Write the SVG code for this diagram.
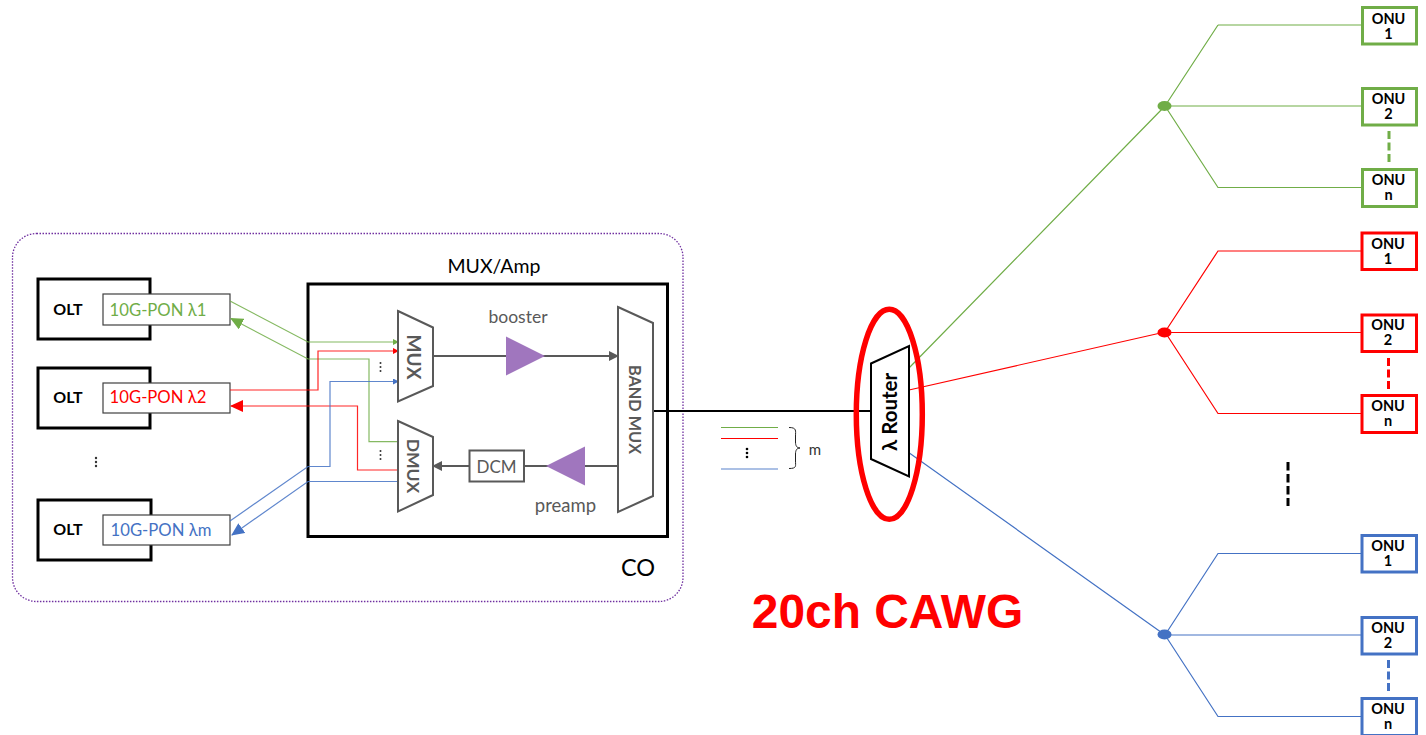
<svg xmlns="http://www.w3.org/2000/svg" width="1426" height="735" viewBox="0 0 1426 735">
<style>
text{font-family:Lato,"Open Sans","DejaVu Sans",sans-serif;text-anchor:middle}
.olt{fill:#fff;stroke:#000;stroke-width:3}
.port{fill:#fff;stroke:#404040;stroke-width:1.2}
.bl{font-weight:700;font-size:16px;fill:#000}
.pl{font-size:16.7px}
.gr{stroke:#70ad47}.rd{stroke:#ff0000}.bu{stroke:#4472c4}
.wire{fill:none;stroke-width:1.2}
.tz{fill:#fff;stroke:#595959;stroke-width:2}
.tl{font-weight:700;font-size:17.5px;fill:#595959}
.gl{font-size:17.5px;fill:#595959}
.onu{fill:#fff;stroke-width:3}
.ot{font-weight:700;font-size:14.5px;fill:#000}
.dash{fill:none;stroke-width:3;stroke-dasharray:8 3.5}
.gf{fill:#70ad47}.rf{fill:#ff0000}.bf{fill:#4472c4}
.dot{fill:#333}
</style>
<defs>
<marker id="ag" markerUnits="userSpaceOnUse" markerWidth="6" markerHeight="6" refX="5" refY="3" orient="auto"><path d="M0 0L6 3L0 6z" fill="#70ad47"/></marker>
<marker id="ar" markerUnits="userSpaceOnUse" markerWidth="6" markerHeight="6" refX="5" refY="3" orient="auto"><path d="M0 0L6 3L0 6z" fill="#ff0000"/></marker>
<marker id="ab" markerUnits="userSpaceOnUse" markerWidth="6" markerHeight="6" refX="5" refY="3" orient="auto"><path d="M0 0L6 3L0 6z" fill="#4472c4"/></marker>
<marker id="Ag" markerUnits="userSpaceOnUse" markerWidth="13" markerHeight="12" refX="12" refY="6" orient="auto"><path d="M0 0L13 6L0 12z" fill="#70ad47"/></marker>
<marker id="Ar" markerUnits="userSpaceOnUse" markerWidth="13" markerHeight="12" refX="12" refY="6" orient="auto"><path d="M0 0L13 6L0 12z" fill="#ff0000"/></marker>
<marker id="Ab" markerUnits="userSpaceOnUse" markerWidth="13" markerHeight="12" refX="12" refY="6" orient="auto"><path d="M0 0L13 6L0 12z" fill="#4472c4"/></marker>
<marker id="ak" markerUnits="userSpaceOnUse" markerWidth="10" markerHeight="10" refX="9" refY="5" orient="auto"><path d="M0 0L10 5L0 10z" fill="#595959"/></marker>
</defs>

<g id="co">
<rect x="12.5" y="233.5" width="670.5" height="368" rx="24" fill="#fff" stroke="#7030a0" stroke-width="1.3" stroke-dasharray="1.5 1.5"/>
<text x="638" y="576" font-size="23.5" fill="#000">CO</text>
</g>

<g id="olt1"><rect class="olt" x="38" y="279" width="112" height="60"/><text class="bl" x="68" y="315">OLT</text></g>
<g id="olt2"><rect class="olt" x="38" y="368" width="112" height="60"/><text class="bl" x="68" y="403">OLT</text></g>
<g id="olt3"><rect class="olt" x="38" y="500" width="113" height="60"/><text class="bl" x="68" y="535">OLT</text></g>
<g id="port1"><rect class="port" x="103" y="294" width="127" height="31"/><text class="pl" x="158" y="316" fill="#70ad47">10G-PON λ1</text></g>
<g id="port2"><rect class="port" x="103" y="383" width="127" height="30"/><text class="pl" x="158" y="403" fill="#ff0000">10G-PON λ2</text></g>
<g id="port3"><rect class="port" x="103" y="515" width="127" height="30"/><text class="pl" x="161" y="536" fill="#4472c4">10G-PON λm</text></g>
<g id="olt-dots" class="dot"><circle cx="96" cy="458" r="1.2"/><circle cx="96" cy="462" r="1.2"/><circle cx="96" cy="466" r="1.2"/></g>

<g id="muxamp">
<rect x="308" y="284" width="359.5" height="252.5" fill="#fff" stroke="#000" stroke-width="3"/>
<text x="494" y="273" font-size="19.5" fill="#000">MUX/Amp</text>
</g>

<g id="connectors">
<path class="wire gr" d="M230 301L308 342H398" marker-end="url(#ag)" stroke-opacity=".85"/>
<path class="wire gr" d="M398 441.7H369V359H308L231 318.5" marker-end="url(#Ag)" stroke-opacity=".85"/>
<path class="wire rd" d="M230 390H318V351H398" marker-end="url(#ar)" stroke-opacity=".85"/>
<path class="wire rd" d="M398 470H357.5V406H231" marker-end="url(#Ar)" stroke-opacity=".85"/>
<path class="wire bu" d="M230 521L308 466.5H330V381.5H398" marker-end="url(#ab)" stroke-opacity=".85"/>
<path class="wire bu" d="M398 481.5H308L232 535" marker-end="url(#Ab)" stroke-opacity=".85"/>
<path d="M433 356H618" fill="none" stroke="#595959" stroke-width="2" marker-end="url(#ak)"/>
<path d="M618 466H433" fill="none" stroke="#595959" stroke-width="2" marker-end="url(#ak)"/>
<path d="M653 411H871" fill="none" stroke="#000" stroke-width="2"/>
<path class="wire gr" d="M909 368L1165 106M1218 25H1362M1165 106L1218 25M1165 106H1362M1165 106L1218 187.5H1362"/>
<path class="wire rd" d="M909 390L1165 332M1165 332L1218 251H1362M1165 332.5H1362M1165 332L1218 413.5H1362"/>
<path class="wire bu" d="M909 452.7L1165 635M1165 635L1218 553.5H1362M1165 635H1362M1165 635L1218 716.5H1362"/>
<path class="dash gr" d="M1389 131V165"/>
<path class="dash rd" d="M1388.5 358V392"/>
<path class="dash bu" d="M1388.5 660V694"/>
<path d="M1288 462V506" fill="none" stroke="#000" stroke-width="3" stroke-dasharray="8.5 3.5"/>
</g>

<g id="mux"><path class="tz" d="M398 311L433 327.5V386L398 401.5z"/><text class="tl" style="font-size:19px" transform="translate(407 357) rotate(90)">MUX</text></g>
<g id="dmux"><path class="tz" d="M398 421L433 437V495L398 511.5z"/><text class="tl" transform="translate(407 466) rotate(90)">DMUX</text></g>
<g id="bandmux"><path class="tz" d="M618 307L653 323V496L618 512z"/><text class="tl" style="font-size:16.3px" transform="translate(628.5 409.5) rotate(90)">BAND MUX</text></g>
<g id="booster"><path d="M506 336.5L545 356L506 375.5z" fill="#a076be"/><text class="gl" x="518" y="323">booster</text></g>
<g id="preamp"><path d="M585 446.5L546 466L585 485.5z" fill="#a076be"/><text class="gl" style="font-size:18.5px" x="565.5" y="512">preamp</text></g>
<g id="dcm"><rect x="469.5" y="450.5" width="54.5" height="31" fill="#fff" stroke="#595959" stroke-width="2"/><text class="gl" x="496.5" y="473" style="font-size:17px">DCM</text></g>
<g id="mux-dots" class="dot"><circle cx="380.5" cy="363" r="1"/><circle cx="380.5" cy="367" r="1"/><circle cx="380.5" cy="371" r="1"/><circle cx="380.5" cy="451" r="1"/><circle cx="380.5" cy="455" r="1"/><circle cx="380.5" cy="459" r="1"/></g>

<g id="legend">
<path d="M721 427.5H778" stroke="#70ad47" stroke-width="1.2" fill="none"/>
<path d="M721 438.5H778" stroke="#ff0000" stroke-width="1.2" fill="none"/>
<path d="M721 469H778" stroke="#4472c4" stroke-width="1.6" fill="none" opacity=".6"/>
<circle cx="747" cy="449" r="1.3"/><circle cx="747" cy="453" r="1.3"/><circle cx="747" cy="457" r="1.3"/>
<path d="M789 427.5C797 427.5 795.5 431 795.5 436V442C795.5 446 797 448 800 448C797 448 795.5 450 795.5 454V461C795.5 466 797 468.5 789 468.5" fill="none" stroke="#222" stroke-width="1"/>
<text x="815" y="455" font-size="15" fill="#333">m</text>
</g>

<g id="router">
<path d="M871 363.5L909 346V476.5L871 459z" fill="#fff" stroke="#000" stroke-width="2"/>
<text transform="translate(897 412) rotate(-90)" font-size="20.5" font-weight="700" fill="#000">λ Router</text>
<ellipse cx="889.3" cy="414.3" rx="33" ry="105" fill="none" stroke="#ff0000" stroke-width="5.5"/>
</g>

<text id="cawg" x="887.5" y="628" style="font-family:'Liberation Sans',Arial,sans-serif;font-weight:700;font-size:47.9px;fill:#ff0000">20ch CAWG</text>

<g id="split-g"><ellipse class="gf" cx="1164.5" cy="106" rx="7" ry="5"/></g>
<g id="split-r"><ellipse class="rf" cx="1164.5" cy="332.5" rx="7" ry="5"/></g>
<g id="split-b"><ellipse class="bf" cx="1164.5" cy="634.5" rx="7" ry="5"/></g>

<g id="onu-g1"><rect class="onu gr" x="1362.5" y="7.5" width="54" height="36.5"/><text class="ot" x="1388.5" y="23.5">ONU</text><text class="ot" x="1388.5" y="38.5">1</text></g>
<g id="onu-g2"><rect class="onu gr" x="1362.5" y="88.5" width="54" height="36.5"/><text class="ot" x="1388.5" y="104">ONU</text><text class="ot" x="1388.5" y="119">2</text></g>
<g id="onu-gn"><rect class="onu gr" x="1362.5" y="169.5" width="54" height="37"/><text class="ot" x="1388.5" y="185">ONU</text><text class="ot" x="1388.5" y="200">n</text></g>
<g id="onu-r1"><rect class="onu rd" x="1362" y="233" width="54.5" height="36.5"/><text class="ot" x="1388" y="249">ONU</text><text class="ot" x="1388" y="264">1</text></g>
<g id="onu-r2"><rect class="onu rd" x="1362" y="315" width="54.5" height="36.5"/><text class="ot" x="1388" y="330">ONU</text><text class="ot" x="1388" y="345">2</text></g>
<g id="onu-rn"><rect class="onu rd" x="1362" y="395.5" width="54.5" height="37"/><text class="ot" x="1388" y="411">ONU</text><text class="ot" x="1388" y="426">n</text></g>
<g id="onu-b1"><rect class="onu bu" x="1362" y="535.5" width="54.5" height="36.5"/><text class="ot" x="1388" y="551">ONU</text><text class="ot" x="1388" y="566">1</text></g>
<g id="onu-b2"><rect class="onu bu" x="1362" y="617.5" width="54.5" height="36.5"/><text class="ot" x="1388" y="633">ONU</text><text class="ot" x="1388" y="648">2</text></g>
<g id="onu-bn"><rect class="onu bu" x="1362" y="698.5" width="54.5" height="37"/><text class="ot" x="1388" y="714">ONU</text><text class="ot" x="1388" y="729">n</text></g>
</svg>
